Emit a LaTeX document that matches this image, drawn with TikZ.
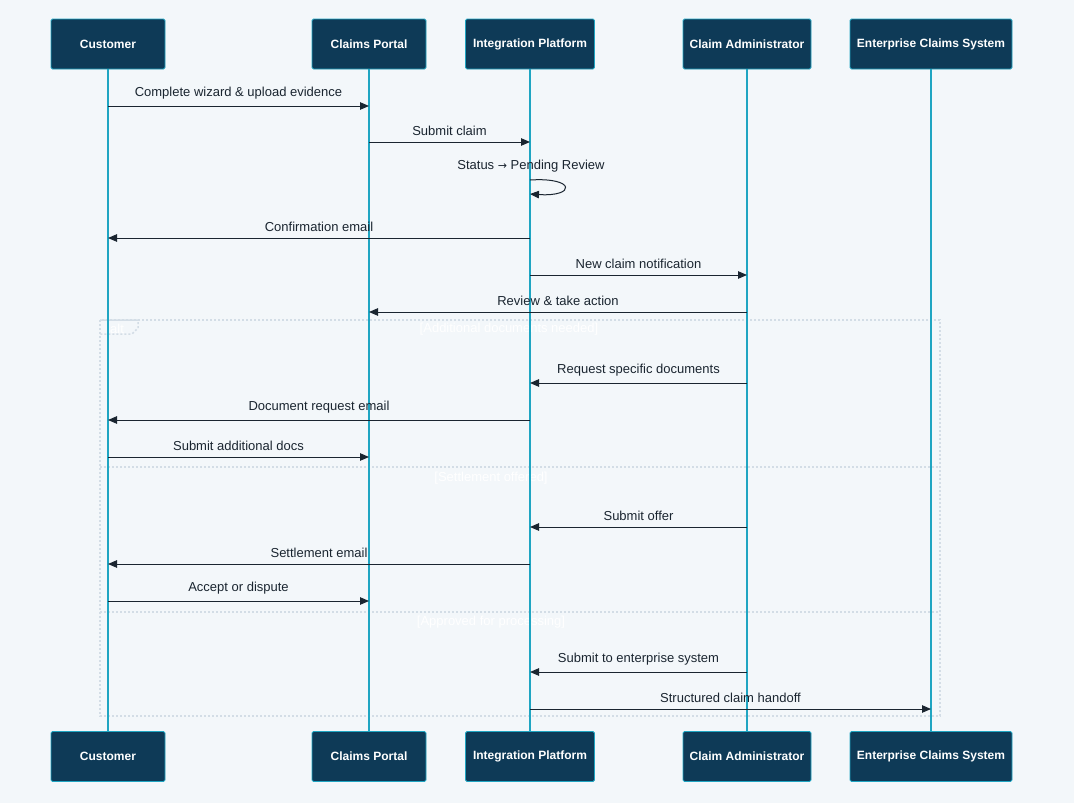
\documentclass[tikz,border=0pt]{standalone}
\usepackage{fontspec}
\setmainfont{Liberation Sans}
\newfontfamily\symfont{DejaVu Sans}
\usetikzlibrary{arrows.meta, positioning}
\definecolor{pagebg}{HTML}{F3F7FA}
\definecolor{actorfill}{HTML}{0E3A57}
\definecolor{lifeteal}{HTML}{1FA5C2}
\definecolor{msgline}{HTML}{1A2530}
\definecolor{framegray}{HTML}{D3DDE6}

\begin{document}
\begin{tikzpicture}[x=1pt, y=-1pt,
            actor/.style={draw=lifeteal, fill=actorfill, text=white, rounded corners=1.5pt, minimum height=50pt, inner sep=0pt, line width=0.8pt, font=\fontsize{12}{14}\selectfont\bfseries},
            lifeline/.style={draw=lifeteal, line width=1.3pt},
            msg/.style={draw=msgline, line width=1pt, -{Triangle[length=9pt, width=7.5pt]}},
            msgtext/.style={text=msgline, inner sep=0pt, font=\fontsize{13}{15}\selectfont},
            frameline/.style={draw=framegray, line width=1.5pt, dash pattern=on 2pt off 2pt},
            guard/.style={text=white, inner sep=0pt, font=\fontsize{13}{15}\selectfont},
        ]
        \fill[pagebg] (0,0) rectangle (1074,803);
        \useasboundingbox (0,0) rectangle (1074,803);

        % alt frame
        \draw[frameline] (100,320) rectangle (940,716);
        \draw[frameline] (100,467) -- (940,467);
        \draw[frameline] (100,612) -- (940,612);
        \draw[frameline] (100,320) -- (138,320) -- (138,328) -- (132,334) -- (100,334);
        \node[guard] (alttag) at (117,329) {alt};
        \node[guard] (condA) at (509,329) {[Additional documents needed]};
        \node[guard] (condB) at (491,478) {[Settlement offered]};
        \node[guard] (condC) at (491,622) {[Approved for processing]};

        % participants
        \node[actor, minimum width=114pt] (cust) at (108,44) {Customer};
        \node[actor, minimum width=114pt] (portal) at (369,44) {Claims Portal};
        \node[actor, minimum width=129pt] (integ) at (530,44) {Integration Platform};
        \node[actor, minimum width=128pt] (admin) at (747,44) {Claim Administrator};
        \node[actor, minimum width=162pt] (ecs) at (931,44) {Enterprise Claims System};

        \node[actor, minimum width=114pt] (custB) at (108,756.5) {Customer};
        \node[actor, minimum width=114pt] (portalB) at (369,756.5) {Claims Portal};
        \node[actor, minimum width=129pt] (integB) at (530,756.5) {Integration Platform};
        \node[actor, minimum width=128pt] (adminB) at (747,756.5) {Claim Administrator};
        \node[actor, minimum width=162pt] (ecsB) at (931,756.5) {Enterprise Claims System};

        \draw[lifeline] (cust) -- (custB);
        \draw[lifeline] (portal) -- (portalB);
        \draw[lifeline] (integ) -- (integB);
        \draw[lifeline] (admin) -- (adminB);
        \draw[lifeline] (ecs) -- (ecsB);

        % messages
        \draw[msg] (cust |- 0,106) -- node[msgtext, above=6pt] {Complete wizard \& upload evidence} (portal |- 0,106);
        \draw[msg] (portal |- 0,142) -- node[msgtext, above=6pt] {Submit claim} (integ |- 0,142);
        \node[msgtext] (status) at (531,166) {Status {\symfont\fontsize{11}{13}\selectfont →} Pending Review};
        \draw[msg] (integ |- 0,180) .. controls +(46,-3) and +(46,3) .. (integ |- 0,194);
        \draw[msg] (integ |- 0,238) -- node[msgtext, above=6pt] {Confirmation email} (cust |- 0,238);
        \draw[msg] (integ |- 0,275) -- node[msgtext, above=6pt] {New claim notification} (admin |- 0,275);
        \draw[msg] (admin |- 0,312) -- node[msgtext, above=6pt] {Review \& take action} (portal |- 0,312);

        \draw[msg] (admin |- 0,383) -- node[msgtext, above=6pt] {Request specific documents} (integ |- 0,383);
        \draw[msg] (integ |- 0,420) -- node[msgtext, above=6pt] {Document request email} (cust |- 0,420);
        \draw[msg] (cust |- 0,457) -- node[msgtext, above=6pt] {Submit additional docs} (portal |- 0,457);

        \draw[msg] (admin |- 0,527) -- node[msgtext, above=6pt] {Submit offer} (integ |- 0,527);
        \draw[msg] (integ |- 0,564) -- node[msgtext, above=6pt] {Settlement email} (cust |- 0,564);
        \draw[msg] (cust |- 0,601) -- node[msgtext, above=6pt] {Accept or dispute} (portal |- 0,601);

        \draw[msg] (admin |- 0,672) -- node[msgtext, above=6pt] {Submit to enterprise system} (integ |- 0,672);
        \draw[msg] (integ |- 0,709) -- node[msgtext, above=6pt] {Structured claim handoff} (ecs |- 0,709);
        \end{tikzpicture}
\end{document}
